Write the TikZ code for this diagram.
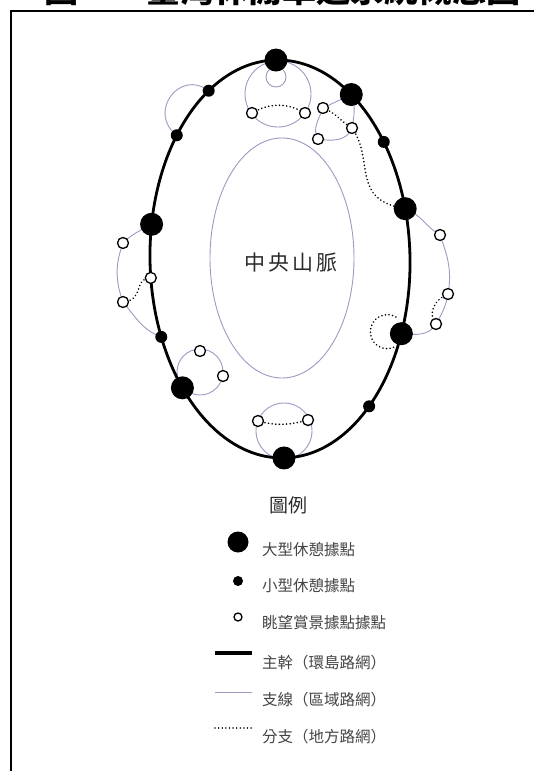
\documentclass[tikz,border=0pt]{standalone}
\usepackage{fontspec}
\newfontfamily\cjk{Noto Sans CJK TC}
\usetikzlibrary{calc}
\pgfdeclarelayer{bg}
\pgfsetlayers{bg,main}
\definecolor{branchc}{HTML}{9A9AC2}
\definecolor{inkc}{HTML}{2A2A2A}
\definecolor{legc}{HTML}{444444}
\tikzset{
 trunk/.style={line width=2.8pt, black},
 branch/.style={line width=0.9pt, branchc},
 twig/.style={line width=1.8pt, dash pattern=on 0.01pt off 3.6pt, line cap=round, black},
 bigpt/.style={circle, fill=black, inner sep=0pt, minimum size=23pt},
 smallpt/.style={circle, fill=black, inner sep=0pt, minimum size=12pt},
 viewpt/.style={circle, draw=black, fill=white, line width=1.3pt, inner sep=0pt, minimum size=11pt},
 legtext/.style={anchor=west, font=\cjk\fontsize{15.5}{16}\selectfont, text=legc, inner sep=0pt},
}
\begin{document}
\begin{tikzpicture}[x=1pt,y=1pt]
\useasboundingbox (0,0) rectangle (534,-771);
% clipped title at the very top (only its lower edge shows)
\begin{scope}
\clip (0,0) rectangle (534,-771);
\node[anchor=south, font=\cjk\bfseries\fontsize{34}{34}\selectfont, inner sep=0pt] (title) at (282,-6) {圖一　臺灣休閒車道系統概念圖};
\end{scope}
% frame
\draw[line width=2.5pt] (534,-11) -- (11,-11) -- (11,-771);

% trunk ring and central range
\draw[trunk, rotate around={1.15:(280,-259)}] (280,-259) ellipse [x radius=130, y radius=199];
\draw[branch] (282,-258) ellipse [x radius=72, y radius=120];
\node[font=\cjk\fontsize{21}{21}\selectfont, text=inkc] (mtn) at (291,-263) {中\hspace{3pt}央\hspace{3pt}山\hspace{3pt}脈};

% nodes on the trunk
\begin{scope}[shift={(280,-259)}, rotate=1.15]
\node[bigpt] (T) at (90:130 and 199) {};
\node[smallpt] (sA) at (121.5:130 and 199) {};
\node[smallpt] (sB) at (140.8:130 and 199) {};
\node[bigpt] (L1) at (169.2:130 and 199) {};
\node[viewpt] (oL) at (184.7:130 and 199) {};
\node[smallpt] (sC) at (202.3:130 and 199) {};
\node[bigpt] (L2) at (219.6:130 and 199) {};
\node[bigpt] (B) at (270:130 and 199) {};
\node[bigpt] (R0) at (55:130 and 199) {};
\node[smallpt] (sR) at (35.3:130 and 199) {};
\node[bigpt] (R1) at (13.9:130 and 199) {};
\node[bigpt] (R2) at (-22.8:130 and 199) {};
\node[smallpt] (sR3) at (-48.5:130 and 199) {};
\end{scope}

% viewpoints off the trunk
\node[viewpt] (oT1) at (252,-113) {};
\node[viewpt] (oT2) at (305,-113) {};
\node[viewpt] (oQ1) at (323,-108) {};
\node[viewpt] (oQ2) at (352,-128) {};
\node[viewpt] (oQ3) at (318,-139) {};
\node[viewpt] (oM1) at (123,-243) {};
\node[viewpt] (oM2) at (123,-302) {};
\node[viewpt] (oB1) at (200,-351) {};
\node[viewpt] (oB2) at (223,-376) {};
\node[viewpt] (oD1) at (258,-421) {};
\node[viewpt] (oD2) at (308,-420) {};
\node[viewpt] (oE1) at (440,-235) {};
\node[viewpt] (oE2) at (448,-294) {};
\node[viewpt] (oE3) at (436,-324) {};

\begin{pgfonlayer}{bg}
% top
\draw[branch] (278,-94) circle[radius=33];
\draw[branch] (276,-77) circle[radius=10];
\draw[twig] (oT1.center) to[out=30,in=150] (oT2.center);
% left top loop
\draw[branch] (sA.center) .. controls +(143:37) and +(143:37) .. (sB.center);
% right top cluster
\draw[branch] (R0.center) to[out=-70,in=80] (oQ2.center) to[out=-110,in=-10] (oQ3.center) to[out=120,in=-110] (oQ1.center) -- (R0.center);
\draw[twig] (oQ1.center) to[out=-20,in=150] (oQ2.center);
\draw[twig] (oQ2.center) .. controls (375,-160) and (350,-200) .. (R1.center);
% left middle cluster
\draw[branch] (L1.center) to[out=210,in=45] (oM1.center) to[out=-110,in=110] (oM2.center) to[out=-50,in=160] (sC.center);
\draw[twig] (oL.center) .. controls (133,-278) and (145,-300) .. (oM2.center);
% left bottom
\draw[branch] (200,-372) circle[radius=23];
% bottom
\draw[branch] (284,-431) circle[radius=28];
\draw[twig] (oD1.center) to[out=-15,in=195] (oD2.center);
% right cluster
\draw[branch] (R1.center) to[out=-20,in=150] (oE1.center) to[out=-70,in=80] (oE2.center) to[out=-100,in=60] (oE3.center) to[out=-120,in=-5] (R2.center);
\draw[twig] (oE2.center) .. controls (433,-300) and (428,-315) .. (oE3.center);
\draw[twig] ([shift={(-14,2)}]R2.center) ++(60:17) arc[start angle=60, end angle=300, radius=17];
\end{pgfonlayer}

% legend
\node[font=\cjk\fontsize{19}{19}\selectfont, text=inkc] (legtitle) at (288,-505) {圖例};
\node[bigpt, minimum size=21pt] (k1) at (238,-542) {};
\node[legtext] (t1) at (262,-550) {大型休憩據點};
\node[smallpt, minimum size=10pt] (k2) at (238,-581) {};
\node[legtext] (t2) at (262,-586) {小型休憩據點};
\node[viewpt, minimum size=8pt] (k3) at (238,-617) {};
\node[legtext] (t3) at (262,-623) {眺望賞景據點據點};
\coordinate (l1a) at (215,-653); \coordinate (l1b) at (252,-653);
\draw[black, line width=4pt] (l1a) -- (l1b);
\node[legtext] (t4) at (262,-663) {主幹（環島路網）};
\coordinate (l2a) at (215,-692); \coordinate (l2b) at (252,-692);
\draw[branch] (l2a) -- (l2b);
\node[legtext] (t5) at (262,-700) {支線（區域路網）};
\coordinate (l3a) at (215,-728); \coordinate (l3b) at (252,-728);
\draw[twig, line width=1.5pt] (l3a) -- (l3b);
\node[legtext] (t6) at (262,-737) {分支（地方路網）};
\end{tikzpicture}
\end{document}
